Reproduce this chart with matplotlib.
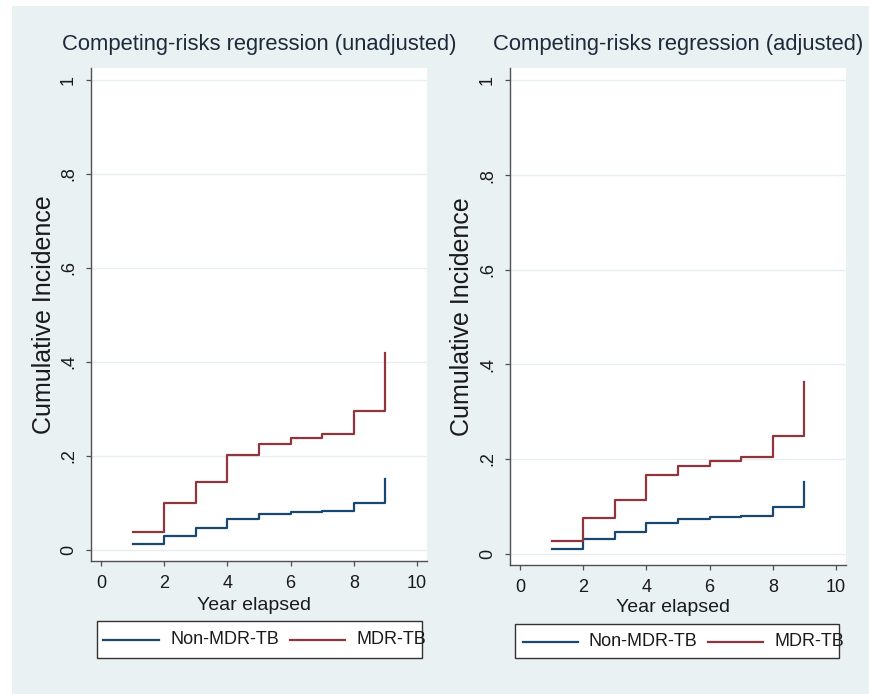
import matplotlib
matplotlib.use("Agg")
import matplotlib.pyplot as plt
from matplotlib.patches import Rectangle
from matplotlib.lines import Line2D

plt.rcParams['font.family'] = ['Liberation Sans', 'DejaVu Sans']

# ---- data ----
years = [1, 2, 3, 4, 5, 6, 7, 8, 9]
unadj_non_mdr = [0.013, 0.030, 0.046, 0.066, 0.076, 0.080, 0.083, 0.101, 0.152]
unadj_mdr = [0.038, 0.100, 0.145, 0.202, 0.225, 0.239, 0.246, 0.296, 0.420]
adj_non_mdr = [0.0095, 0.030, 0.046, 0.064, 0.072, 0.0765, 0.079, 0.099, 0.152]
adj_mdr = [0.026, 0.075, 0.114, 0.165, 0.184, 0.196, 0.204, 0.249, 0.363]

titles = ["Competing-risks regression (unadjusted)", "Competing-risks regression (adjusted)"]
series_names = ["Non-MDR-TB", "MDR-TB"]
yticks = [0, 0.2, 0.4, 0.6, 0.8, 1.0]
ytick_labels = ["0", ".2", ".4", ".6", ".8", "1"]
xticks = [0, 2, 4, 6, 8, 10]
xlabel = "Year elapsed"
ylabel = "Cumulative Incidence"

BLUE = "#1a476f"
RED = "#90353b"
BG = "#e9f1f3"
GRID = "#e6eef0"
AX = "#505050"

W, H = 869, 694
fig = plt.figure(figsize=(W / 100, H / 100), dpi=100)
fig.patch.set_facecolor("white")
fig.add_artist(Rectangle((12 / W, 0), 1 - 12 / W, (H - 6) / H, transform=fig.transFigure,
                         facecolor=BG, edgecolor="none", zorder=-10))

def fx(px):
    return px / W

def fy(py):
    return 1 - py / H

panels = [
    dict(x0=91, x1=427, y0=68, y1=561, ylim=(-0.0234, 1.0255), data=(unadj_non_mdr, unadj_mdr),
         ylab_x=44, title_y=50, xlab_y=606, leg=(96.7, 621, 421.7, 657.7), leg_y=640,
         leg_items=((103, 159, 170), (290, 345, 357))),
    dict(x0=510, x1=846, y0=68, y1=565, ylim=(-0.0243, 1.0264), data=(adj_non_mdr, adj_mdr),
         ylab_x=462, title_y=50, xlab_y=608, leg=(515, 624, 839.3, 657.7), leg_y=641.5,
         leg_items=((522.7, 577.7, 588), (708, 763, 775))),
]

for i, p in enumerate(panels):
    ax = fig.add_axes([fx(p["x0"]), fy(p["y1"]), fx(p["x1"] - p["x0"]), (p["y1"] - p["y0"]) / H])
    ax.set_facecolor("white")
    ax.set_xlim(-0.316, 10.316)
    ax.set_ylim(*p["ylim"])
    for y in yticks:
        ax.axhline(y, color=GRID, lw=1.0, zorder=0)
    non, mdr = p["data"]
    ax.step(years, non, where="post", color=BLUE, lw=1.6, zorder=3)
    ax.step(years, mdr, where="post", color=RED, lw=1.6, zorder=3)
    ax.set_yticks(yticks)
    ax.set_yticklabels(ytick_labels, rotation=90, va="center", fontsize=13)
    ax.set_xticks(xticks)
    ax.set_xticklabels([str(t) for t in xticks], fontsize=13)
    for s in ["top", "right"]:
        ax.spines[s].set_visible(False)
    for s in ["left", "bottom"]:
        ax.spines[s].set_color(AX)
        ax.spines[s].set_linewidth(1.0)
    ax.tick_params(axis="both", direction="out", length=3.6, width=0.9, color=AX,
                   labelcolor="#1a1a1a", pad=6.5)
    # title
    fig.text(fx((p["x0"] + p["x1"]) / 2), fy(p["title_y"]), titles[i], ha="center", va="baseline",
             fontsize=15.8, color="#1c2a3a")
    # y label
    fig.text(fx(p["ylab_x"]), fy((p["y0"] + p["y1"]) / 2), ylabel, rotation=90, ha="center",
             va="center", fontsize=18, color="#1a1a1a")
    # x label
    fig.text(fx((p["x0"] + p["x1"]) / 2 - 5), fy(p["xlab_y"]), xlabel, ha="center", va="center",
             fontsize=14, color="#1a1a1a")
    # legend
    lx0, ly0, lx1, ly1 = p["leg"]
    fig.add_artist(Rectangle((fx(lx0), fy(ly1)), fx(lx1 - lx0), (ly1 - ly0) / H,
                             transform=fig.transFigure, facecolor="white", edgecolor="#333333", lw=1.0))
    for (a, b, t), col, name in zip(p["leg_items"], (BLUE, RED), series_names):
        fig.add_artist(Line2D([fx(a), fx(b)], [fy(p["leg_y"]), fy(p["leg_y"])],
                              transform=fig.transFigure, color=col, lw=1.6))
        fig.text(fx(t), fy(p["leg_y"]), name, ha="left", va="center", fontsize=13, color="#1a1a1a")

fig.savefig("out.png", dpi=100)
